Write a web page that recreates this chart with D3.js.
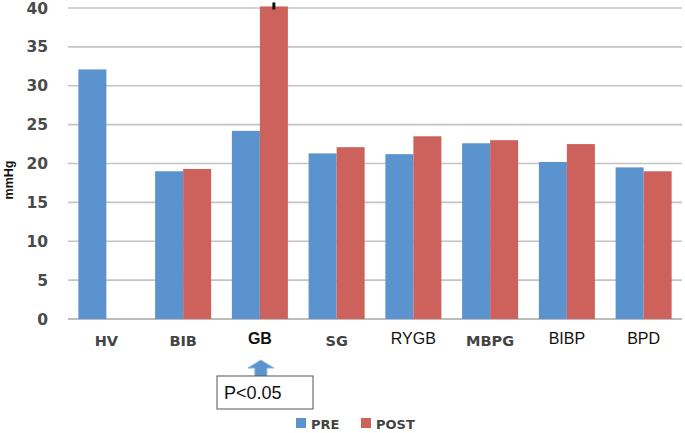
<!DOCTYPE html>
<html>
<head>
<meta charset="utf-8">
<script src="https://cdn.jsdelivr.net/npm/d3@7"></script>
<style>
  body { margin: 0; background: #fff; }
  svg { display: block; }
</style>
</head>
<body>
<div id="chart"></div>
<script>
// data
var categories = ["HV", "BIB", "GB", "SG", "RYGB", "MBPG", "BIBP", "BPD"];
var series = ["PRE", "POST"];
var preValues = [32.1, 19.0, 24.2, 21.3, 21.2, 22.6, 20.2, 19.5];
var postValues = [null, 19.3, 40.2, 22.1, 23.5, 23.0, 22.5, 19.0];
var yTicks = [0, 5, 10, 15, 20, 25, 30, 35, 40];
// label styling varies in the original figure
var labelBold = [true, true, true, true, false, true, false, false];
var labelDark = [false, false, true, false, true, false, true, true];

var width = 685, height = 433;
var colors = { "PRE": "#5b93cf", "POST": "#cd625d" };

var svg = d3.select("#chart").append("svg")
  .attr("width", width)
  .attr("height", height);

var x = d3.scaleBand()
  .domain(categories)
  .range([68, 682])
  .paddingInner(0.27)
  .paddingOuter(0.135);

var x1 = d3.scaleBand()
  .domain(series)
  .range([0, x.bandwidth()]);

var y = d3.scaleLinear()
  .domain([0, 40])
  .range([319, 8]);

// gridlines
svg.selectAll("line.grid")
  .data(yTicks)
  .enter().append("line")
    .attr("class", "grid")
    .attr("x1", 68)
    .attr("x2", 682)
    .attr("y1", function(d) { return y(d); })
    .attr("y2", function(d) { return y(d); })
    .attr("stroke", function(d) { return d === 0 ? "#a6a6a6" : "#c4c4c4"; })
    .attr("stroke-width", 1.6);

// y tick labels
svg.selectAll("text.ytick")
  .data(yTicks)
  .enter().append("text")
    .attr("class", "ytick")
    .attr("x", 48)
    .attr("y", function(d) { return y(d); })
    .attr("dy", "0.36em")
    .attr("text-anchor", "end")
    .style("font-family", "Verdana, 'DejaVu Sans', sans-serif")
    .style("font-size", "15.5px")
    .style("font-weight", "bold")
    .style("fill", "#4a4a4a")
    .text(function(d) { return d; });

// y axis title
svg.append("text")
  .attr("transform", "translate(13,180) rotate(-90)")
  .attr("text-anchor", "middle")
  .style("font-family", "Arial, 'Liberation Sans', sans-serif")
  .style("font-size", "12.5px")
  .style("font-weight", "bold")
  .style("fill", "#111")
  .text("mmHg");

// bars
var rows = categories.map(function(c, i) {
  return { cat: c, values: [
    { s: "PRE", v: preValues[i] },
    { s: "POST", v: postValues[i] }
  ] };
});

var groups = svg.selectAll("g.group")
  .data(rows)
  .enter().append("g")
    .attr("class", "group")
    .attr("transform", function(d) { return "translate(" + x(d.cat) + ",0)"; });

groups.selectAll("rect")
  .data(function(d) { return d.values.filter(function(e) { return e.v != null; }); })
  .enter().append("rect")
    .attr("x", function(d) { return x1(d.s); })
    .attr("width", x1.bandwidth())
    .attr("y", function(d) { return y(d.v); })
    .attr("height", function(d) { return y(0) - y(d.v); })
    .attr("fill", function(d) { return colors[d.s]; });

// small error-bar cap on GB post
var gbPost = postValues[categories.indexOf("GB")];
svg.append("line")
  .attr("x1", x("GB") + x1("POST") + x1.bandwidth() / 2)
  .attr("x2", x("GB") + x1("POST") + x1.bandwidth() / 2)
  .attr("y1", y(gbPost) - 4)
  .attr("y2", y(gbPost) + 3)
  .attr("stroke", "#111")
  .attr("stroke-width", 3);

// category labels
svg.selectAll("text.xlab")
  .data(categories)
  .enter().append("text")
    .attr("class", "xlab")
    .attr("x", function(d) { return x(d) + x.bandwidth() / 2; })
    .attr("y", function(d, i) { return labelDark[i] ? 344 : 346; })
    .attr("text-anchor", "middle")
    .style("font-family", function(d, i) {
      return labelBold[i] && !labelDark[i] ? "Verdana, 'DejaVu Sans', sans-serif" : "Arial, 'Liberation Sans', sans-serif";
    })
    .style("font-size", function(d, i) { return labelBold[i] && !labelDark[i] ? "14.5px" : "16px"; })
    .style("font-weight", function(d, i) { return labelBold[i] ? "bold" : "normal"; })
    .style("fill", function(d, i) { return labelDark[i] ? "#111" : "#444"; })
    .text(function(d) { return d; });

// significance arrow and box under GB
var ax = x("GB") + x.bandwidth() / 2 + 1;
svg.append("path")
  .attr("d", "M" + ax + ",360 L" + (ax + 13) + ",368 L" + (ax + 6) + ",368 L" + (ax + 6) + ",377 L" +
    (ax - 6) + ",377 L" + (ax - 6) + ",368 L" + (ax - 13) + ",368 Z")
  .attr("fill", "#5b93cf")
  .attr("stroke", "#8fb3dc")
  .attr("stroke-width", 1);

svg.append("rect")
  .attr("x", 217)
  .attr("y", 376)
  .attr("width", 96)
  .attr("height", 33)
  .attr("fill", "#fff")
  .attr("stroke", "#555")
  .attr("stroke-width", 1);

svg.append("text")
  .attr("x", 224)
  .attr("y", 399)
  .style("font-family", "Arial, 'Liberation Sans', sans-serif")
  .style("font-size", "18px")
  .style("fill", "#111")
  .text("P<0.05");

// legend
var legend = svg.selectAll("g.legend")
  .data(series)
  .enter().append("g")
    .attr("class", "legend")
    .attr("transform", function(d, i) { return "translate(" + (296 + i * 65) + ",418)"; });

legend.append("rect")
  .attr("width", 10)
  .attr("height", 10)
  .attr("fill", function(d) { return colors[d]; });

legend.append("text")
  .attr("x", 15)
  .attr("y", 11)
  .style("font-family", "Verdana, 'DejaVu Sans', sans-serif")
  .style("font-size", "13px")
  .style("font-weight", "bold")
  .style("fill", "#444")
  .text(function(d) { return d; });
</script>
</body>
</html>
